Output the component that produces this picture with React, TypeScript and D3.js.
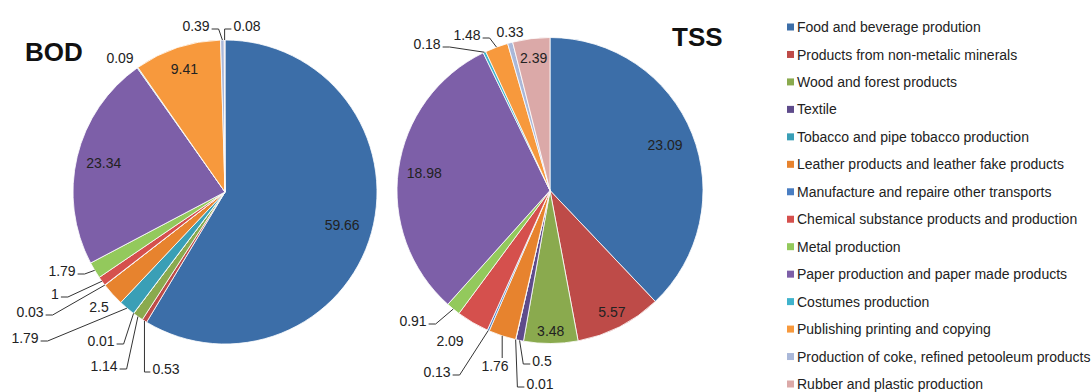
import React from "react";
import * as d3 from "d3";

// ---------- data ----------
const categories = [
  "Food and beverage prodution",
  "Products from non-metalic minerals",
  "Wood and forest products",
  "Textile",
  "Tobacco and pipe tobacco production",
  "Leather products and leather fake products",
  "Manufacture and repaire other transports",
  "Chemical substance products and production",
  "Metal production",
  "Paper production and paper made products",
  "Costumes production",
  "Publishing printing and copying",
  "Production of coke, refined petooleum products",
  "Rubber and plastic production",
];

const bodValues = [59.66, 0.53, 1.14, 0.01, 1.79, 2.5, 0.03, 1, 1.79, 23.34, 0.09, 9.41, 0.39, 0.08];
const tssValues = [23.09, 5.57, 3.48, 0.5, 0.01, 1.76, 0.13, 2.09, 0.91, 18.98, 0.18, 1.48, 0.33, 2.39];

const colors = [
  "#3C6EA8", "#BE4B48", "#8AAA4E", "#5E4B8B", "#3A9FB6", "#E7832E", "#4A7EC2",
  "#D5504D", "#93C95C", "#7D5FA8", "#40B3CC", "#F7993D", "#AAB8D9", "#DBA9A8",
];

// ---------- layout (label placement) ----------
type Place = { inside?: number; dx?: number; dy?: number; leader?: boolean };

const bodPlace: Place[] = [
  { inside: 0.8 },
  { dx: -59, dy: 177, leader: true },
  { dx: -121, dy: 174, leader: true },
  { dx: -124, dy: 149, leader: true },
  { dx: -200, dy: 146, leader: true },
  { dx: -126, dy: 115 },
  { dx: -195, dy: 120, leader: true },
  { dx: -170, dy: 102, leader: true },
  { dx: -163, dy: 79, leader: true },
  { inside: 0.82 },
  { dx: -105, dy: -134 },
  { inside: 0.85 },
  { dx: -29, dy: -166, leader: true },
  { dx: 22, dy: -166, leader: true },
];

const tssPlace: Place[] = [
  { inside: 0.81 },
  { inside: 0.89 },
  { inside: 0.92 },
  { dx: -8, dy: 170.5, leader: true },
  { dx: -10, dy: 193.5, leader: true },
  { dx: -55, dy: 175.5, leader: true },
  { dx: -113, dy: 181.5, leader: true },
  { dx: -100, dy: 150.5 },
  { dx: -137, dy: 130.5, leader: true },
  { inside: 0.83 },
  { dx: -123, dy: -146.5, leader: true },
  { dx: -83, dy: -155.5, leader: true },
  { dx: -40, dy: -158.5 },
  { inside: 0.87 },
];

const FONT = "'Liberation Sans', Arial, Helvetica, sans-serif";
const LABEL_SIZE = 14;

function textWidth(s: string, size: number) {
  let w = 0;
  for (const ch of s) w += ch === "." ? 0.278 : 0.556;
  return w * size;
}

function Pie({ values, place, cx, cy, r }: { values: number[]; place: Place[]; cx: number; cy: number; r: number }) {
  const pie = d3.pie<number>().sort(null).value((d) => d)(values);
  const arc = d3.arc<d3.PieArcDatum<number>>().innerRadius(0).outerRadius(r);
  return (
    <g transform={`translate(${cx},${cy})`}>
      {pie.map((p, i) => (
        <path key={"s" + i} d={arc(p) || ""} fill={colors[i]} stroke="#fff" strokeWidth={0.8} />
      ))}
      {pie.map((p, i) => {
        const pl = place[i];
        const a = (p.startAngle + p.endAngle) / 2;
        const txt = String(values[i]);
        let x: number, y: number;
        if (pl.inside !== undefined) {
          x = Math.sin(a) * r * pl.inside;
          y = -Math.cos(a) * r * pl.inside;
        } else {
          x = pl.dx!;
          y = pl.dy!;
        }
        let leader: string | null = null;
        if (pl.leader) {
          const px = Math.sin(a) * r;
          const py = -Math.cos(a) * r;
          const w = textWidth(txt, LABEL_SIZE);
          const x0 = x - w / 2;
          const x1 = x + w / 2;
          if (px > x0 && px < x1 && py < y) {
            leader = `M${px},${y - 8}L${px},${py}`;
          } else {
            const lx = px < x ? x0 - 2 : x1 + 2;
            const ly = y + 3;
            const dxp = px - lx;
            const ex = lx + Math.sign(dxp) * Math.min(7, Math.abs(dxp));
            leader = `M${lx},${ly}L${ex},${ly}L${px},${py}`;
          }
        }
        return (
          <g key={"l" + i}>
            {leader && <path d={leader} fill="none" stroke="#333" strokeWidth={1} />}
            <text x={x} y={y} dy="0.36em" textAnchor="middle" fontFamily={FONT} fontSize={LABEL_SIZE} fill="#222">
              {txt}
            </text>
          </g>
        );
      })}
    </g>
  );
}

export default function App() {
  const legendY = d3.scalePoint<string>().domain(categories).range([27, 384]);
  return (
    <svg width={1091} height={392} style={{ position: "absolute", left: 0, top: 0, background: "#fff" }}>
      <rect width={1091} height={392} fill="#fff" />
      <Pie values={bodValues} place={bodPlace} cx={225} cy={192} r={152} />
      <Pie values={tssValues} place={tssPlace} cx={550} cy={190.5} r={153} />
      <text x={25} y={61} fontFamily={FONT} fontWeight="bold" fontSize={26} fill="#111">BOD</text>
      <text x={672} y={46} fontFamily={FONT} fontWeight="bold" fontSize={26} fill="#111">TSS</text>
      <g>
        {categories.map((c, i) => {
          const y = legendY(c)!;
          return (
            <g key={c}>
              <rect x={787} y={y - 3.5} width={7} height={7} fill={colors[i]} />
              <text x={797} y={y} dy="0.36em" fontFamily={FONT} fontSize={14} fill="#222">
                {c}
              </text>
            </g>
          );
        })}
      </g>
    </svg>
  );
}
